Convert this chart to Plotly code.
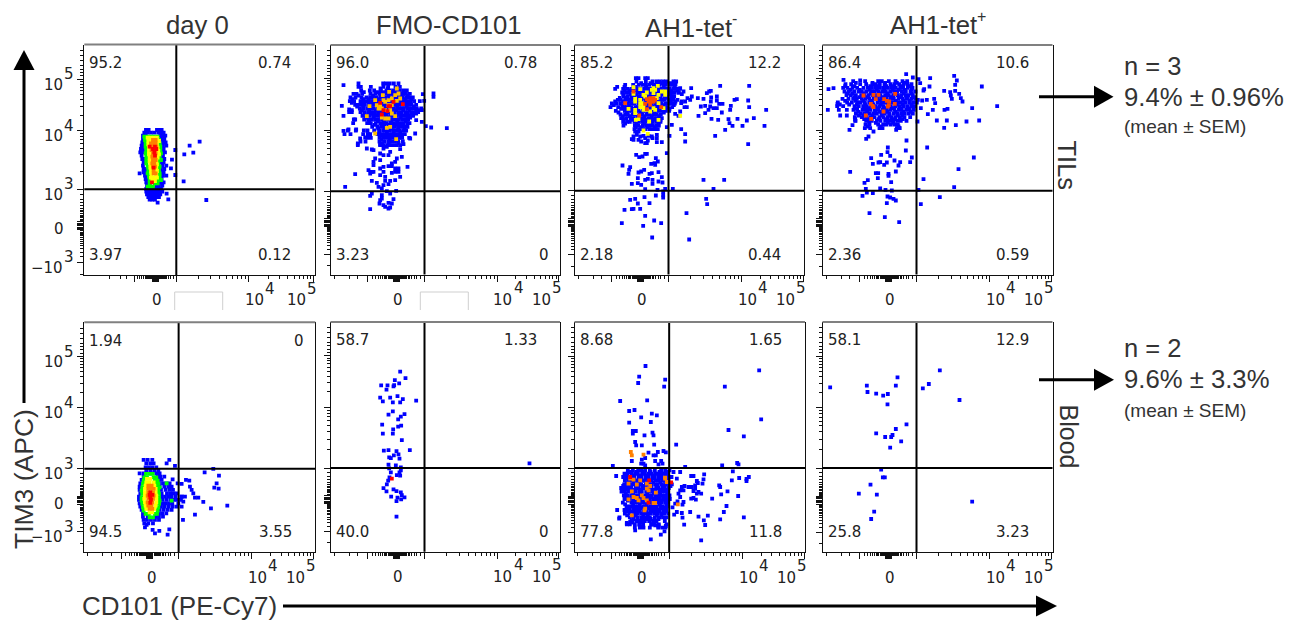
import plotly.graph_objects as go

W, H = 1297, 621
BLUE, GREEN, YELLOW, GOLD, ORANGE, REDOR, RED = "#0000ff", "#00ff00", "#ffff00", "#ffc000", "#ff8000", "#ff4a00", "#ff0000"

ROW_TITLES = ["TILs", "Blood"]
Q_TILS = [["95.2", "0.74", "3.97", "0.12"], ["96.0", "0.78", "3.23", "0"], ["85.2", "12.2", "2.18", "0.44"], ["86.4", "10.6", "2.36", "0.59"]]
Q_BLOOD = [["1.94", "0", "94.5", "3.55"], ["58.7", "1.33", "40.0", "0"], ["8.68", "1.65", "77.8", "11.8"], ["58.1", "12.9", "25.8", "3.23"]]

# events are in display channels (x, TIM3 channel); rows are (channel y, [channels x])
til_day0_blue_rows = [(435,[185,193,218,226,232]),(427,[180,189,200,210,222,232,238]),(418,[176,184,228,236,243]),(408,[176,182,232,240]),(398,[174,236,244]),(388,[172,180,236,246]),(378,[170,176,238]),(368,[168,176,234,242]),(358,[172,236]),(348,[174,180,232,240]),(338,[178,232,238]),(328,[176,234,246]),(318,[178,184,230,240]),(308,[178,186,232,238]),(298,[182,188,228,236,246]),(288,[184,192,224,232]),(278,[186,194,222,228,238]),(268,[188,196,216,224,234]),(258,[186,194,204,212,222,230]),(250,[186,194,202,210,218,226,234]),(242,[188,196,204,212,220,228]),(234,[192,200,208,216,224]),(226,[196,204,212])]
til_day0_blue_pts = [(346,400),(316,388),(300,362),(327,367),(273,375),(263,346),(260,320),(273,300),(298,281),(366,225),(247,244),(252,227),(220,217),(166,305),(172,372)]
til_day0_green_rows = [(415,[180,190,200,210,220]),(405,[182,190,224]),(395,[184,226]),(385,[184,228]),(375,[186,190,228]),(365,[184,230]),(355,[186,226]),(345,[186,224,230]),(335,[186,222]),(325,[190,226]),(315,[192,224]),(305,[190,226]),(295,[194,226]),(285,[196,220,230]),(275,[196,212,220]),(265,[190,198,206])]
til_day0_yellow_rows = [(412,[190,198,208,218]),(402,[192,200,218,224]),(392,[192,198,218]),(382,[194,220]),(372,[194,198,222]),(362,[194,200,218,224]),(352,[196,220]),(342,[196,202,216]),(332,[198,218]),(322,[198,204,216]),(312,[200,218]),(302,[202,216]),(292,[200,208,218]),(282,[204,212])]
til_day0_orange_rows = [(405,[206,214]),(395,[200,208,214]),(385,[200,206,216]),(375,[202,212]),(365,[206,214]),(355,[204,212]),(345,[206,214]),(335,[204,210]),(325,[206,212]),(315,[208]),(305,[208,214])]
til_day0_red_rows = [(385,[196,212]),(378,[206,216]),(368,[210]),(358,[212]),(322,[208]),(278,[203])]

til_fmo_blue_rows = [(573,[84,158,167,178,190,204]),(563,[84,91,121,159,173,195,208]),(552,[92,118,131,151,168,178,189,199,208,218,229]),(542,[69,78,95,120,135,147,156,168,179,188,197,209,219,226,238]),(531,[60,75,93,108,119,127,137,149,158,166,177,189,198,207,217,228,236,247]),(520,[58,71,90,101,112,123,131,144,152,163,172,180,192,202,212,221,232,241,251,268]),(509,[74,83,94,103,114,125,134,146,155,164,175,186,194,205,214,224,235,243,257]),(498,[88,99,110,120,129,141,150,161,170,182,190,201,209,220,231,240,250,259,272]),(487,[56,64,90,102,113,122,133,143,152,165,173,184,192,203,213,224,232,242,252,263]),(476,[96,108,117,128,138,147,159,168,179,188,199,209,218,227,238,248]),(465,[70,74,101,113,124,134,145,155,164,175,185,195,205,215,224,233]),(454,[68,110,121,136,149,160,169,181,190,200,211,219,230,237]),(443,[125,141,152,161,173,183,192,203,212,222,231]),(432,[52,76,100,111,131,147,158,168,178,188,197,207,218,227]),(421,[42,60,98,112,119,141,154,163,174,184,195,204,213,223]),(410,[110,121,147,158,167,178,187,198,208,215,236]),(399,[90,105,147,161,173,183,193,203,217]),(388,[82,149,159,170,179,189,199,209])]
til_fmo_fill_rows = [(558,[150,172,200]),(547,[100,140,160,183,203,225]),(537,[84,128,151,174,192,214,232]),(526,[66,98,115,141,160,184,203,224,243]),(515,[64,96,118,139,158,177,197,218,238]),(504,[80,98,120,141,160,181,200,229,250]),(493,[94,116,136,156,178,197,218,237,257]),(482,[102,123,143,163,184,205,228,243]),(471,[106,130,152,170,192,211,230]),(460,[116,142,160,181,200,226]),(449,[132,155,176,196,216]),(438,[143,163,183,203,222]),(427,[146,169,190,209]),(416,[151,172,192,212]),(405,[153,177,197]),(394,[155,175,204])]
til_fmo_blue_pts = [(39,568),(34,506),(39,476),(39,431),(44,263),(74,301),(54,435),(56,495),(64,493),(82,393),(77,435),(89,408),(104,411),(112,421),(109,378),(129,373),(124,375),(149,390),(159,378),(169,383),(209,376),(219,391),(239,408),(254,423),(274,458),(286,445),(302,441),(349,439),(309,543),(309,533),(277,541),(281,521),(274,493),(264,493),(257,463),(257,483),(239,471),(179,368),(149,363),(159,358),(174,358),(149,343),(134,348),(199,348),(214,353),(194,338),(184,333),(129,338),(129,328),(231,323),(114,313),(119,303),(124,308),(129,308),(149,318),(159,323),(174,325),(184,325),(194,318),(204,318),(194,308),(204,308),(184,305),(159,308),(164,293),(149,298),(209,293),(194,283),(179,281),(164,281),(124,281),(139,275),(174,271),(159,268),(144,263),(154,258),(169,250),(179,243),(197,251),(119,236),(124,243),(154,238),(149,223),(147,213),(159,208),(189,226),(174,215),(184,213),(164,203),(174,198),(179,201),(119,196),(154,228)]
til_fmo_gold_pts = [(176,548),(157,538),(199,558),(117,505),(134,523),(144,498),(154,498),(164,518),(174,523),(184,528),(194,538),(204,543),(209,528),(164,493),(179,493),(184,483),(194,475),(174,468),(164,468),(154,471),(109,475),(169,440),(179,443),(134,423),(197,406),(199,521),(149,508),(139,508),(184,508),(159,523),(174,508)]
til_fmo_red_pts = [(149,515),(217,511),(189,518),(174,505),(179,505),(159,493),(171,490),(154,480)]

til_neg_blue_rows = [(589,[184,192,212,220]),(579,[186,214,234,246,256,266,275]),(569,[152,176,193,205,214,224,237,246,254,266,273,284,294,303]),(557,[122,146,158,170,178,189,197,209,218,228,238,249,258,270,278,286,298,305,316]),(546,[143,155,163,175,184,196,203,214,226,233,246,253,265,274,284,295,300,313]),(535,[148,160,171,179,191,199,211,221,230,240,251,259,271,280,291,299]),(524,[130,139,152,162,172,181,190,201,213,222,232,241,250,262,270,282,290,297,309]),(513,[112,125,137,150,159,171,180,192,203,211,224,232,243,252,261,273,282,291,301]),(502,[108,131,149,156,170,183,190,202,212,223,233,241,254,262,272,280,293]),(491,[124,151,163,172,184,192,205,214,226,234,245,255,264,273,284]),(480,[138,152,160,174,182,195,203,216,226,238,247,259]),(469,[140,155,168,177,190,201,210,222,232,243,253,262]),(458,[146,158,166,180,193,204,213,227,235,246,258]),(447,[147,181,191,205,215,224,234,245,253]),(436,[180,194,204,213,225,233,243,250])]
til_neg_fill_rows = [(574,[200,228,260,288]),(563,[128,150,184,215,243,268,300]),(552,[150,166,190,223,240,260,290,309]),(541,[146,168,186,207,237,262,288]),(530,[136,156,176,204,226,245,275,295]),(519,[122,146,166,186,217,237,256,287,303]),(508,[118,143,164,197,218,247,267,298]),(497,[140,160,178,208,228,250,285]),(486,[132,157,178,199,220,240,268]),(475,[145,166,189,210,232,254]),(464,[148,172,196,218,240,258]),(453,[152,186,209,231,252]),(442,[184,200,220,240])]
til_neg_blue_pts = [(524,566),(437,566),(404,549),(409,551),(397,544),(427,534),(410,531),(387,527),(370,529),(352,534),(347,524),(322,519),(332,519),(339,529),(427,522),(409,519),(434,512),(417,499),(427,499),(407,504),(392,506),(379,504),(402,494),(392,484),(372,476),(317,489),(302,482),(312,476),(330,502),(337,502),(320,514),(487,526),(480,524),(521,522),(524,502),(575,494),(538,469),(517,462),(489,467),(469,506),(467,494),(444,512),(442,486),(462,466),(465,454),(474,446),(504,446),(570,446),(452,434),(422,416),(521,391),(431,464),(411,467),(320,436),(332,421),(332,399),(285,416),(292,449),(277,442),(350,559),(327,549),(317,559),(305,579),(297,579),(322,541),(312,546),(387,284),(449,284),(417,257),(295,257),(395,227),(398,211),(336,184),(344,105),(277,364),(260,154),(239,162),(233,111),(206,146),(212,176),(142,154),(150,194),(172,196),(177,197),(197,197),(225,214),(190,213),(167,224),(182,227),(210,232),(244,237),(249,254),(266,249),(266,239),(266,231),(272,257),(212,256),(264,276),(252,279),(262,292),(252,307),(234,284),(234,272),(212,284),(200,269),(190,274),(172,272),(190,289),(220,287),(162,302),(192,306),(200,309),(209,314),(225,302),(232,304),(167,322),(164,314),(144,327),(230,332),(240,334),(244,349),(250,339),(242,329),(185,359),(194,352),(204,354),(212,362),(217,362),(182,429),(192,429),(177,414),(187,419),(197,414),(207,416),(212,409),(222,416),(232,414),(247,419),(247,409),(192,404),(200,399),(212,394),(217,394),(247,397),(262,397),(177,404),(172,406),(220,402),(234,409)]
til_neg_yellow_pts = [(177,562),(197,556),(177,542),(217,546),(237,559),(250,566),(237,544),(252,539),(272,549),(272,539),(162,497),(182,519),(182,527),(197,524),(202,514),(207,504),(217,494),(227,489),(242,494),(252,514),(247,529),(237,529),(197,502),(182,494),(182,484),(184,464),(192,466),(224,459),(252,464),(207,432),(220,422),(317,476),(232,554),(267,499),(207,539),(212,534),(197,512),(207,494),(237,499),(262,549),(242,554)]
til_neg_red_pts = [(227,529),(237,529),(217,526),(222,519),(232,519),(237,519),(212,512),(227,509),(217,496),(152,514),(260,502),(194,477),(177,549),(242,524)]

til_pos_blue_rows = [(580,[92,128,167,178,199,219,240,254]),(571,[69,86,113,131,150,160,172,186,204,216,230,243,255,267]),(560,[62,75,90,104,123,136,148,158,172,182,196,206,220,233,242,256,270]),(549,[66,79,95,108,118,131,147,155,167,179,190,203,215,224,238,250,264,279]),(538,[72,85,100,116,126,138,150,163,174,188,199,212,225,236,249,258,271]),(527,[60,78,92,103,118,129,141,154,166,176,191,203,214,228,241,252,266,278]),(516,[46,74,88,106,114,127,140,150,165,178,187,200,211,226,235,248,260,272,283]),(505,[44,62,96,109,122,133,146,158,170,182,195,205,218,230,243,254,268,277]),(494,[93,104,120,130,144,157,168,180,193,204,216,229,238,251,262,274]),(483,[100,115,126,140,152,163,177,187,200,213,224,236,247,259,271]),(472,[97,118,133,145,156,171,183,196,207,219,232,246,263]),(461,[99,131,148,163,174,188,200,211,224,235,252]),(450,[129,141,167,182,192,205,217,226]),(439,[127,143,171,180,223,231])]
til_pos_fill_rows = [(575,[100,150,188,223,248]),(565,[68,96,143,166,191,210,236,262]),(554,[84,112,142,163,185,211,229,247,268]),(543,[74,90,124,144,170,194,219,244,268]),(532,[96,110,133,157,182,207,231,254,275]),(521,[68,99,122,146,171,195,220,243,262]),(510,[52,80,103,128,152,175,196,223,241,266]),(499,[100,127,139,163,188,212,236,258]),(488,[108,134,158,172,194,219,242,265]),(477,[109,124,150,178,201,226,240]),(466,[125,140,168,193,216,241]),(455,[140,160,196,212]),(444,[136,175,228])]
til_pos_blue_pts = [(63,584),(113,582),(18,556),(33,559),(16,494),(45,512),(49,494),(53,477),(73,477),(73,494),(81,434),(90,448),(98,466),(98,462),(131,407),(138,414),(153,429),(221,434),(231,439),(252,402),(196,381),(195,367),(203,356),(250,372),(268,351),(176,359),(146,349),(151,332),(168,336),(173,337),(185,329),(193,336),(216,342),(233,337),(228,327),(263,337),(314,381),(454,351),(408,316),(83,308),(160,304),(167,304),(166,289),(198,302),(198,296),(220,309),(206,277),(136,283),(126,275),(130,257),(133,246),(151,244),(173,258),(189,254),(208,252),(303,286),(395,262),(288,254),(352,232),(295,211),(120,236),(195,234),(203,231),(213,227),(220,222),(193,214),(141,184),(187,172),(230,157),(395,596),(403,582),(398,569),(478,564),(398,551),(383,547),(365,551),(410,542),(385,537),(388,527),(415,529),(420,519),(335,527),(313,524),(338,514),(295,499),(331,494),(316,481),(366,494),(375,497),(449,499),(524,505),(343,462),(373,462),(365,440),(400,448),(432,459),(470,462),(285,459),(323,589),(321,564),(305,556),(303,552),(293,574),(288,586),(271,591),(251,601),(286,524),(299,522)]
til_pos_red_pts = [(123,537),(153,539),(168,539),(218,542),(160,526),(185,526),(193,521),(200,519),(145,512),(153,502),(150,506),(199,508),(196,504),(217,512),(183,489),(130,477),(146,467)]

blood_day0_blue_rows = [(277,[178,190,204]),(267,[186,198,208]),(255,[184,194,204,216]),(245,[186,198,210,222]),(237,[166,178,200,216,226]),(227,[178,220,228,240]),(217,[172,222,232]),(207,[168,224,236,246,256]),(197,[166,226,240,252,262]),(187,[166,230,244,256,266]),(177,[168,232,248,258,268,278]),(167,[164,232,242,252,262,274,292,302]),(157,[164,234,246,258,268,278,290]),(147,[166,234,244,254,264,282]),(137,[168,230,240,252,264,276]),(127,[172,226,238,250,262]),(117,[176,224,234,246]),(107,[176,190,214,224,236]),(97,[178,188,200,212,224]),(87,[180,192,206])]
blood_day0_blue_pts = [(387,250),(361,240),(404,230),(397,207),(390,194),(403,191),(429,140),(380,132),(357,151),(332,113),(296,97),(342,164),(332,164),(327,177),(317,197),(322,187),(315,215),(305,217),(292,205),(280,207),(265,219),(272,259),(255,277),(247,267),(255,69),(250,53),(225,64),(212,57),(205,67),(182,75),(187,82),(292,167),(297,152),(292,137)]
blood_day0_green_rows = [(235,[185,195,205]),(225,[180,188,208,216]),(215,[178,212,220]),(205,[176,216,222]),(195,[174,218,226]),(185,[172,222]),(175,[174,224]),(165,[172,224]),(155,[172,226,262]),(145,[174,224]),(135,[176,222]),(125,[178,220]),(115,[184,194,212,218]),(105,[196,206]),(207,[247])]
blood_day0_yellow_rows = [(220,[188,198]),(210,[186,196,208]),(200,[184,210]),(190,[182,214]),(180,[182,214]),(170,[182,216]),(160,[180,216]),(150,[182,216]),(140,[184,214]),(130,[186,210]),(120,[196,204])]
blood_day0_orange_rows = [(200,[192,202]),(190,[192,200,208]),(180,[192,206]),(170,[190,200,208]),(160,[192,206]),(150,[190,204]),(140,[192,202]),(130,[196,204])]
blood_day0_red_rows = [(180,[198]),(172,[196,204]),(165,[198]),(158,[200]),(148,[198])]

blood_fmo_blue_pts = [(209,540),(193,515),(225,521),(206,505),(191,500),(189,496),(152,499),(171,499),(168,486),(149,462),(157,451),(179,462),(187,448),(201,467),(217,458),(209,448),(257,453),(187,421),(174,411),(222,413),(211,405),(203,397),(155,381),(212,378),(203,375),(188,367),(157,354),(187,354),(214,335),(160,303),(174,305),(198,302),(238,305),(204,292),(190,289),(176,283),(181,281),(207,279),(174,261),(196,259),(211,253),(176,250),(211,244),(207,238),(181,238),(199,230),(209,228),(177,223),(173,213),(169,202),(159,191),(168,181),(189,187),(198,182),(211,178),(214,170),(222,163),(201,162),(212,157),(198,152),(182,165),(198,105),(597,265)]
blood_fmo_red_pts = [(184,219)]

blood_neg_blue_rows = [(245,[160,175,191,201,212,226,241,260,272,285]),(235,[150,159,171,182,190,203,211,222,232,243,251,262,271,281]),(225,[146,161,172,180,193,201,213,221,233,241,252,261,273,280,291]),(214,[151,163,170,183,190,204,211,223,231,244,252,263,270,282]),(203,[149,158,172,181,192,200,214,221,232,243,250,262,272,279,292]),(192,[140,152,161,170,184,191,203,212,224,231,245,252,264,271,283]),(181,[141,151,163,174,183,194,202,215,223,233,242,254,263,274,281]),(170,[148,159,170,182,192,201,212,221,232,243,251,262,271,285]),(159,[150,166,176,186,197,205,217,226,236,247,256,266,276,286]),(148,[145,171,181,190,203,211,222,232,240,252,261,272,280]),(137,[156,166,175,187,196,208,216,227,235,246,257,265,277]),(126,[128,150,166,177,186,196,207,217,228,236,247,256,267,275]),(115,[151,165,179,189,200,210,219,229,240,249,260,269,281]),(104,[135,166,176,190,201,213,226,241,256,266,276]),(93,[171,186,196,211,224,236,246,271]),(83,[157,166,181,196,206,231,241,253,276]),(73,[181,196,207,226,251,263,273])]
blood_neg_fill_rows = [(240,[166,185,206,228,255,277]),(230,[154,176,197,217,238,256,275]),(220,[155,176,197,217,238,257,276]),(209,[156,177,195,216,237,257,275]),(198,[146,166,187,208,228,248,268,288]),(187,[146,158,178,198,219,238,258,278]),(176,[154,176,197,218,238,257,278]),(165,[155,171,190,209,228,247,267,280]),(154,[160,183,201,221,243,262,281]),(143,[152,176,196,216,236,256,276]),(132,[160,181,202,222,241,260,270]),(121,[158,172,193,213,233,252,272]),(110,[158,184,206,220,247,261]),(99,[178,203,218,229,252]),(88,[174,201,236])]
blood_neg_blue_pts = [(213,558),(194,526),(191,507),(272,517),(269,496),(218,455),(137,453),(164,423),(180,426),(200,404),(232,415),(247,410),(164,388),(229,390),(175,363),(184,363),(175,355),(234,358),(237,350),(210,350),(182,330),(185,320),(202,320),(239,322),(305,322),(250,300),(267,303),(274,299),(222,298),(237,290),(244,290),(212,282),(202,277),(172,273),(200,265),(207,265),(242,273),(260,273),(264,265),(252,263),(212,260),(115,258),(125,228),(451,496),(554,545),(560,398),(462,366),(508,347),(443,260),(488,267),(492,263),(475,242),(523,225),(516,219),(494,222),(472,215),(516,213),(434,200),(437,195),(459,182),(491,168),(440,173),(413,160),(456,138),(448,120),(437,98),(508,104),(400,109),(372,106),(388,95),(392,81),(380,35),(347,120),(322,117),(324,103),(329,82),(302,145),(309,152),(299,112),(294,134),(307,120),(317,240),(332,255),(389,233),(357,228),(350,228),(307,220),(297,240),(387,218),(367,213),(370,207),(384,205),(362,200),(362,190),(352,195),(342,195),(330,198),(322,195),(317,185),(312,175),(327,185),(357,183),(372,180),(380,175),(367,175),(357,162),(350,160),(364,157),(317,165),(327,150),(324,142),(229,38),(259,52),(270,62),(274,78),(252,78),(242,80),(230,82),(205,75),(182,65),(194,82),(157,87),(167,90),(134,100)]
blood_neg_orange_pts = [(169,300),(172,290),(207,292),(167,220),(177,217),(162,205),(197,215),(217,205),(227,198),(272,223),(277,210),(172,182),(187,202),(217,190),(222,185),(244,178),(177,165),(187,162),(202,170),(207,162),(217,155),(237,147),(242,147),(212,130),(210,125),(172,110),(162,158),(310,143),(192,155),(272,220)]
blood_neg_red_pts = [(167,225),(224,215),(290,209),(222,148)]

blood_pos_blue_pts = [(23,494),(133,499),(135,480),(161,475),(182,469),(196,474),(220,499),(225,524),(195,443),(352,545),(301,491),(319,504),(411,456),(252,383),(220,369),(161,356),(188,345),(206,345),(210,351),(236,332),(203,313),(176,247),(181,224),(187,224),(144,202),(109,175),(163,172),(155,121),(146,99),(449,151)]


def unrow(rows):
    return [(x, y) for y, xs in rows for x in xs]


LAYERS = [
    [(BLUE, unrow(til_day0_blue_rows) + til_day0_blue_pts), (GREEN, unrow(til_day0_green_rows)), (YELLOW, unrow(til_day0_yellow_rows)), (ORANGE, unrow(til_day0_orange_rows)), (RED, unrow(til_day0_red_rows))],
    [(BLUE, unrow(til_fmo_blue_rows) + unrow(til_fmo_fill_rows) + til_fmo_blue_pts), (GOLD, til_fmo_gold_pts), (RED, til_fmo_red_pts)],
    [(BLUE, unrow(til_neg_blue_rows) + unrow(til_neg_fill_rows) + til_neg_blue_pts), (YELLOW, til_neg_yellow_pts), (REDOR, til_neg_red_pts)],
    [(BLUE, unrow(til_pos_blue_rows) + unrow(til_pos_fill_rows) + til_pos_blue_pts), (REDOR, til_pos_red_pts)],
    [(BLUE, unrow(blood_day0_blue_rows) + blood_day0_blue_pts), (GREEN, unrow(blood_day0_green_rows)), (YELLOW, unrow(blood_day0_yellow_rows)), (ORANGE, unrow(blood_day0_orange_rows)), (RED, unrow(blood_day0_red_rows))],
    [(BLUE, blood_fmo_blue_pts), (RED, blood_fmo_red_pts)],
    [(BLUE, unrow(blood_neg_blue_rows) + unrow(blood_neg_fill_rows) + blood_neg_blue_pts), (ORANGE, blood_neg_orange_pts), (RED, blood_neg_red_pts)],
    [(BLUE, blood_pos_blue_pts)],
]

# panel frame in window pixels: left, right, top, bottom
FRAMES = [(84.3, 314.5, 44.5, 275), (330.5, 560, 45, 274.5), (574.5, 804, 45, 274.5), (822.5, 1052.5, 45, 274.5),
          (84.3, 315.3, 322.3, 552.3), (330.5, 560, 322, 551.7), (574.5, 805, 322, 552), (822.5, 1052.5, 322, 552)]
# axis channels of 0, 10^3, 10^4, 10^5
X_ANCHORS = [(213, 276, 493, 688), (197, 282, 501, 685), (197, 282, 501, 686), (197, 282, 501, 686),
             (197, 283, 502, 687), (197, 282, 501, 685), (197, 284, 504, 689), (197, 282, 501, 686)]
Y_ANCHORS = [(148, 257, 433, 588), (155, 250, 433, 588), (155, 251, 433, 588), (155, 251, 433, 588),
             (156, 251, 434, 587), (156, 251, 433, 588), (156, 252, 433, 588), (156, 252, 433, 588)]

LOG_FR = [0.30103, 0.47712, 0.60206, 0.69897, 0.77815, 0.8451, 0.90309, 0.95424]
BIEX_OFFS = [12, 15, 18, 21, 24, 28, 32, 36, 41, 47, 54, 62, 72]


def tick_sets(anchors, axis_len, block):
    z, d3, d4, d5 = anchors
    neg = z - (d3 - z)
    major = [neg, d3, d4, d5] + [z + k * block / 3 for k in range(-3, 4)]
    sc = (d3 - z) / 85
    minor = [d3 + (d4 - d3) * f for f in LOG_FR] + [d4 + (d5 - d4) * f for f in LOG_FR]
    minor += [d5 + o for o in (10, 20, 30, 40, 55, 70, 85) if d5 + o < axis_len]
    minor += [z + o * sc for o in BIEX_OFFS] + [z - o * sc for o in BIEX_OFFS]
    minor += [v for v in (neg - 30 * sc, neg - 56 * sc, neg - 100 * sc) if v > 0]
    return major, minor


def X(px):
    return px / W


def Y(py):
    return 1 - py / H


fig = go.Figure()
shapes, annos = [], []
TICK_FONT = "DejaVu Sans"
TICK_SIZE = 15
INK = "#222222"
TXT = "#333333"
TICKFONT = dict(family=TICK_FONT, size=TICK_SIZE, color=INK)

for i in range(8):
    n = i + 1
    suffix = "" if n == 1 else str(n)
    xa, ya = f"x{suffix}", f"y{suffix}"
    l, r, t, b = FRAMES[i]
    xlen, ylen = (r - l) * 3, (b - t) * 3
    xt, xm = tick_sets(X_ANCHORS[i], xlen, 9)
    yt, ym = tick_sets(Y_ANCHORS[i], ylen, 12)
    common = dict(showgrid=False, zeroline=False, showticklabels=False, showline=True, linecolor="#111111", linewidth=1,
                  ticks="outside", ticklen=6, tickwidth=1, tickcolor="#111111", tickmode="array", fixedrange=True)
    fig.update_layout(**{
        f"xaxis{suffix}": dict(domain=[X(l), X(r)], range=[0, xlen], anchor=ya, tickvals=xt,
                               minor=dict(tickmode="array", tickvals=xm, ticks="outside", ticklen=3, tickwidth=1, tickcolor="#111111"), **common),
        f"yaxis{suffix}": dict(domain=[Y(b), Y(t)], range=[0, ylen], anchor=xa, tickvals=yt, mirror=True,
                               minor=dict(tickmode="array", tickvals=ym, ticks="outside", ticklen=3, tickwidth=1, tickcolor="#111111"), **common),
    })
    for color, pts in LAYERS[i]:
        fig.add_trace(go.Scatter(x=[p[0] for p in pts], y=[p[1] for p in pts], xaxis=xa, yaxis=ya, mode="markers",
                                 marker=dict(symbol="square", size=3.8, color=color, line=dict(width=0)),
                                 hoverinfo="skip", showlegend=False))
    # quadrant gates at 10^3 / 10^3
    shapes.append(dict(type="line", xref=xa, yref=f"{ya} domain", x0=X_ANCHORS[i][1], x1=X_ANCHORS[i][1], y0=0, y1=1, line=dict(color="#000000", width=2)))
    shapes.append(dict(type="line", xref=f"{xa} domain", yref=ya, x0=0, x1=1, y0=Y_ANCHORS[i][1], y1=Y_ANCHORS[i][1], line=dict(color="#000000", width=2)))
    shapes.append(dict(type="line", xref="paper", yref="paper", x0=X(l), x1=X(r), y0=Y(t), y1=Y(t), line=dict(color="#808080", width=2)))

    # quadrant percentages
    labels = (Q_TILS + Q_BLOOD)[i]
    for text_, right, top in zip(labels, (False, True, False, True), (True, True, False, False)):
        px_x = l + 3 if not right else r - (9 if text_ == "0" else 21.5)
        py = t + 18.3 if top else b - 20
        annos.append(dict(text=text_, xref="paper", yref="paper", x=X(px_x), y=Y(py), xanchor="right" if right else "left", yanchor="middle",
                          showarrow=False, font=dict(family=TICK_FONT, size=15, color=INK)))
    # x tick labels
    z, d3, d4, d5 = X_ANCHORS[i]
    by = b + 25.5
    annos.append(dict(text="0", xref=xa, yref="paper", x=z, xshift=2, y=Y(by), xanchor="center", yanchor="middle", showarrow=False, font=TICKFONT))
    for v, power, shift in ((d4, "4", -6), (d5, "5", -29)):
        annos.append(dict(text="10", xref=xa, yref="paper", x=v, xshift=shift, y=Y(by), xanchor="left", yanchor="middle", showarrow=False, font=TICKFONT))
        annos.append(dict(text=power, xref=xa, yref="paper", x=v, xshift=shift + 20, y=Y(by - 12), xanchor="left", yanchor="middle", showarrow=False, font=TICKFONT))
    # y tick labels, first column only
    if i % 4 == 0:
        yz, y3, y4, y5 = Y_ANCHORS[i]
        annos.append(dict(text="0", xref="paper", yref=ya, x=X(66), y=yz, yshift=-3.5, xanchor="right", yanchor="middle", showarrow=False, font=TICKFONT))
        for v, base, power in ((y3, "10", "3"), (y4, "10", "4"), (y5, "10", "5"), (yz - (y3 - yz), "\u221210", "3")):
            annos.append(dict(text=base, xref="paper", yref=ya, x=X(65), y=v, yshift=-5.5, xanchor="right", yanchor="middle", showarrow=False, font=TICKFONT))
            annos.append(dict(text=power, xref="paper", yref=ya, x=X(62), y=v, yshift=5, xanchor="left", yanchor="middle", showarrow=False, font=TICKFONT))

# open grey boxes under the first two upper panels
for x0 in (174.7, 420.3):
    shapes.append(dict(type="path", xref="paper", yref="paper",
                       path=f"M {X(x0)} {Y(310)} L {X(x0)} {Y(292)} L {X(x0 + 48)} {Y(292)} L {X(x0 + 48)} {Y(310)}",
                       line=dict(color="#cfcfcf", width=1)))


def arrow_right(x0, x1, head_x, y, half):
    shapes.append(dict(type="line", xref="paper", yref="paper", x0=X(x0), x1=X(head_x + 1), y0=Y(y), y1=Y(y), line=dict(color="#000000", width=3)))
    shapes.append(dict(type="path", xref="paper", yref="paper", fillcolor="#000000", line=dict(width=0),
                       path=f"M {X(head_x)} {Y(y - half)} L {X(x1)} {Y(y)} L {X(head_x)} {Y(y + half)} Z"))


arrow_right(283, 1057, 1036, 606, 10.5)
arrow_right(1039, 1113.5, 1094, 96.7, 11)
arrow_right(1039, 1114, 1094, 379.7, 11)
shapes.append(dict(type="line", xref="paper", yref="paper", x0=X(24), x1=X(24), y0=Y(403), y1=Y(69), line=dict(color="#000000", width=3)))
shapes.append(dict(type="path", xref="paper", yref="paper", fillcolor="#000000", line=dict(width=0),
                   path=f"M {X(13.5)} {Y(70)} L {X(24)} {Y(50)} L {X(34.5)} {Y(70)} Z"))


def text(s, px, py, size, anchor="left", angle=0, family="Liberation Sans"):
    annos.append(dict(text=s, xref="paper", yref="paper", x=X(px), y=Y(py), xanchor=anchor, yanchor="middle", textangle=angle,
                      showarrow=False, font=dict(family=family, size=size, color=TXT)))


text("day 0", 197, 25, 25.7, "center")
text("FMO-CD101", 449, 25, 25.7, "center")
text("AH1-tet", 688.5, 28, 25.7, "center")
text("-", 730, 18, 16)
text("AH1-tet", 933.5, 25, 25.7, "center")
text("+", 975, 16, 16)
text("TIM3 (APC)", 24, 479, 26.5, "center", -90)
text("CD101 (PE-Cy7)", 179.5, 606, 26, "center")
text(ROW_TITLES[0], 1066.5, 165, 25.5, "center", 90)
text(ROW_TITLES[1], 1069, 436.5, 25, "center", 90)
for lines, ys in ((("n = 3", "9.4% \u00b1 0.96%", "(mean \u00b1 SEM)"), (65.7, 96.7, 126.7)), (("n = 2", "9.6% \u00b1 3.3%", "(mean \u00b1 SEM)"), (348.3, 379, 410.7))):
    text(lines[0], 1122, ys[0], 25.5)
    text(lines[1], 1122, ys[1], 25.7)
    text(lines[2], 1122, ys[2], 19)

fig.update_layout(width=W, height=H, autosize=False, margin=dict(l=0, r=0, t=0, b=0), plot_bgcolor="white", paper_bgcolor="white",
                  shapes=shapes, annotations=annos, showlegend=False)
fig.write_html("out.html", config={"displayModeBar": False},
               post_script="document.body.style.margin='0';document.documentElement.style.overflow='hidden';")
